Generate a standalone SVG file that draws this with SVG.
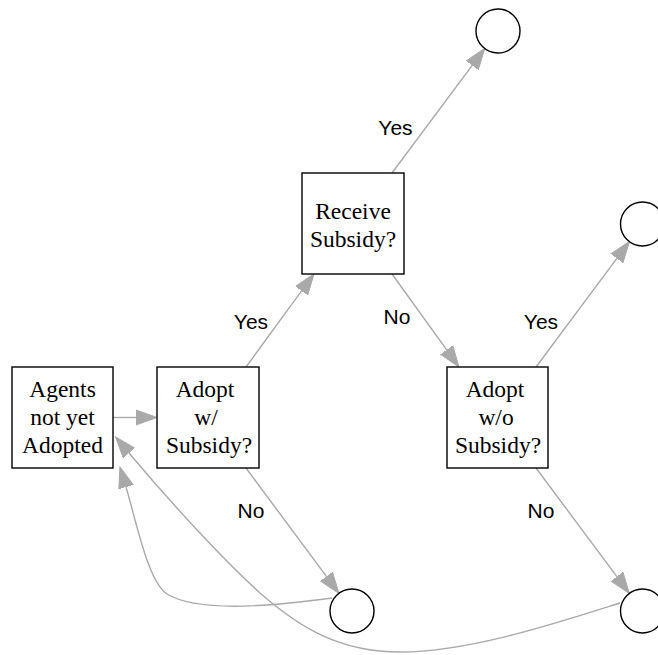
<svg xmlns="http://www.w3.org/2000/svg" width="658" height="655" viewBox="0 0 658 655">
  <style>
    .box { fill: #ffffff; stroke: #000000; stroke-width: 1.4; }
    .term { fill: #ffffff; stroke: #000000; stroke-width: 1.4; }
    .ntext { font-family: "Liberation Serif", "Times New Roman", serif; font-size: 23.5px; fill: #000000; text-anchor: middle; }
    .edge { fill: none; stroke: #a9a9a9; stroke-width: 1.4; }
    .elabel { font-family: "Liberation Sans", Arial, sans-serif; font-size: 21px; fill: #000000; text-anchor: middle; }
  </style>
  <defs>
    <marker id="arrow" markerUnits="userSpaceOnUse" markerWidth="24" markerHeight="18" viewBox="0 -9 24 18" refX="0" refY="0" orient="auto">
      <path d="M0,-7.5 L21,0 L0,7.5 Z" fill="#a9a9a9" stroke="#a9a9a9" stroke-width="1"/>
    </marker>
  </defs>

  <rect width="658" height="655" fill="#ffffff"/>

  <!-- connectors -->
  <g id="edges">
    <path class="edge" marker-end="url(#arrow)" d="M113,417.5 L136,417.5"/>
    <path class="edge" marker-end="url(#arrow)" d="M246,367 L301.6,290.9"/>
    <path class="edge" marker-end="url(#arrow)" d="M392,173 L472.2,65.4"/>
    <path class="edge" marker-end="url(#arrow)" d="M392,274 L446.7,349.9"/>
    <path class="edge" marker-end="url(#arrow)" d="M536,367 L616.9,258.4"/>
    <path class="edge" marker-end="url(#arrow)" d="M246,468 L326.4,576.4"/>
    <path class="edge" marker-end="url(#arrow)" d="M536,468 L616.9,576.6"/>
    <path class="edge" marker-end="url(#arrow)" d="M332,598 C280,605 200,614 167,594 C148,582 136,520 126,487"/>
    <path class="edge" marker-end="url(#arrow)" d="M620,603 C560,622 470,652 400,652 C340,652 300,628 260,593 C215,552 160,490 129,453"/>

    <text class="elabel" x="251" y="329">Yes</text>
    <text class="elabel" x="251" y="518">No</text>
    <text class="elabel" x="395.5" y="135">Yes</text>
    <text class="elabel" x="397" y="324">No</text>
    <text class="elabel" x="541" y="329">Yes</text>
    <text class="elabel" x="541" y="518">No</text>
  </g>

  <!-- nodes -->
  <g id="agents">
    <rect class="box" x="12" y="367" width="101" height="101"/>
    <text class="ntext" x="62.5" y="397">Agents</text>
    <text class="ntext" x="62.5" y="425">not yet</text>
    <text class="ntext" x="62.5" y="453">Adopted</text>
  </g>
  <g id="adopt_with_subsidy">
    <rect class="box" x="157" y="367" width="102" height="101"/>
    <text class="ntext" x="205" y="397">Adopt</text>
    <text class="ntext" x="206" y="425">w/</text>
    <text class="ntext" x="209" y="453">Subsidy?</text>
  </g>
  <g id="receive_subsidy">
    <rect class="box" x="302" y="173" width="102" height="101"/>
    <text class="ntext" x="353" y="219">Receive</text>
    <text class="ntext" x="353" y="247">Subsidy?</text>
  </g>
  <g id="adopt_without_subsidy">
    <rect class="box" x="447" y="367" width="101" height="101"/>
    <text class="ntext" x="495" y="397">Adopt</text>
    <text class="ntext" x="496" y="425">w/o</text>
    <text class="ntext" x="498" y="453">Subsidy?</text>
  </g>
  <g id="end_receive_yes">
    <circle class="term" cx="498" cy="31" r="22"/>
  </g>
  <g id="end_adopt_yes">
    <circle class="term" cx="642.5" cy="224" r="22"/>
  </g>
  <g id="end_with_no">
    <circle class="term" cx="352" cy="611" r="22"/>
  </g>
  <g id="end_without_no">
    <circle class="term" cx="642.5" cy="611" r="22"/>
  </g>
</svg>
